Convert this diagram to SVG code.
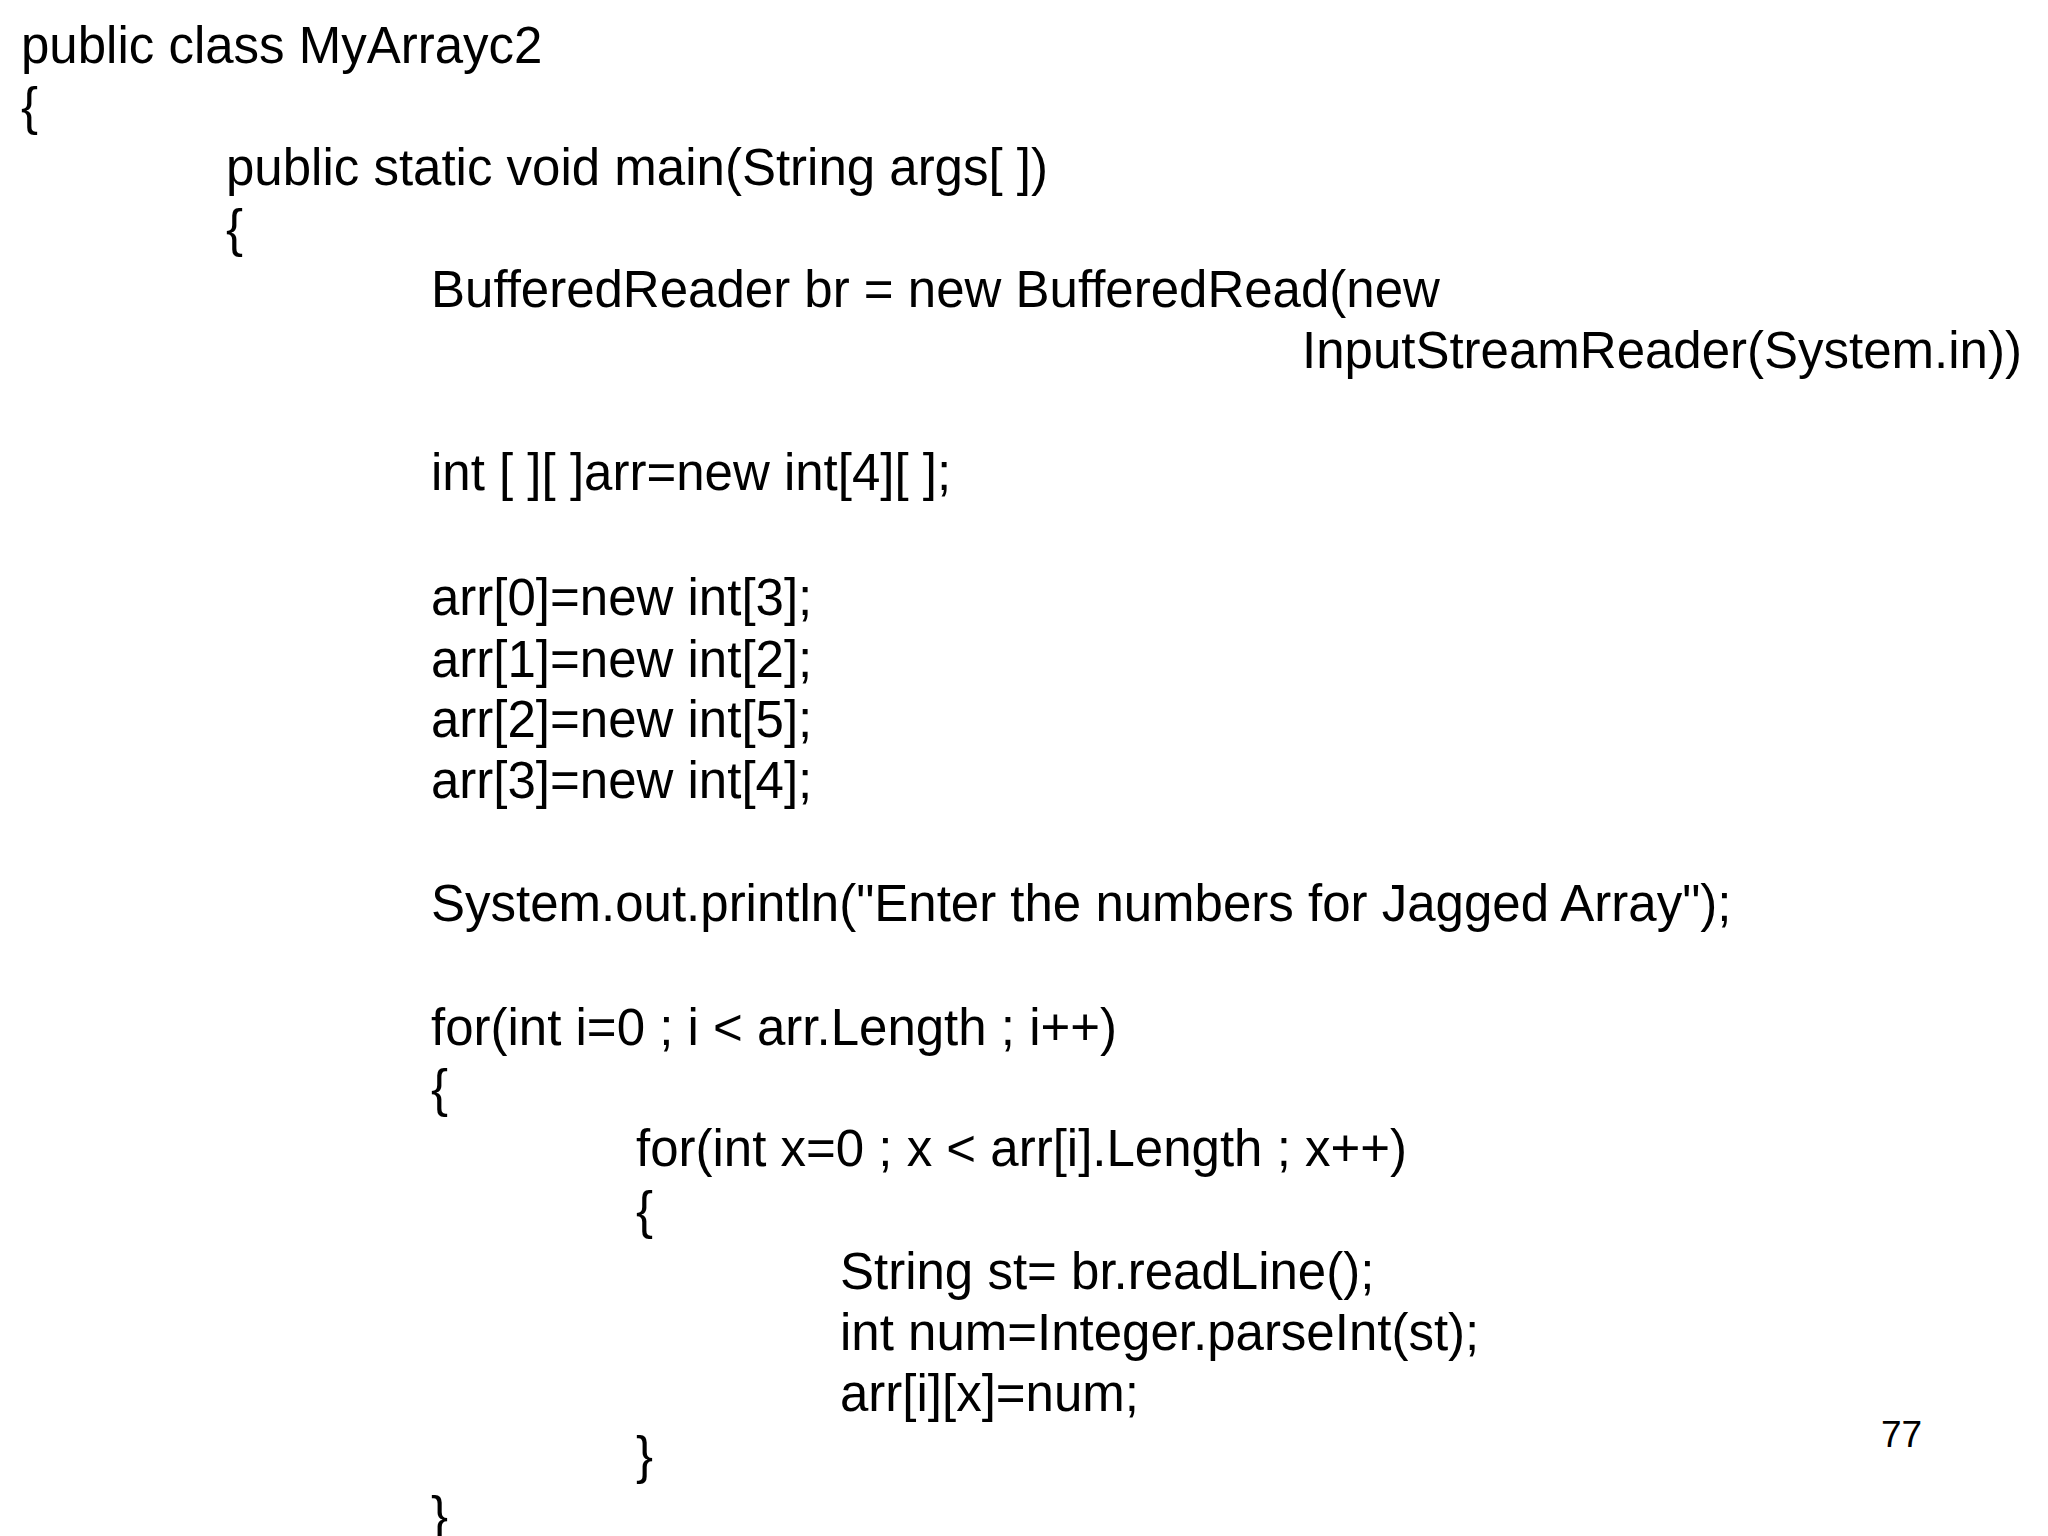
<svg xmlns="http://www.w3.org/2000/svg" width="2048" height="1536" viewBox="0 0 2048 1536">
<style>
text{font-family:"Liberation Sans",Arial,sans-serif;font-size:51px;fill:#000}
.s{font-size:37px}
</style>
<rect width="2048" height="1536" fill="#fff"/>
<g id="code">
<text x="21" y="63">public class MyArrayc2</text>
<text x="21" y="124">{</text>
<text x="226" y="185">public static void main(String args[ ])</text>
<text x="226" y="246">{</text>
<text x="431" y="307">BufferedReader br = new BufferedRead(new</text>
<text x="1302" y="368">InputStreamReader(System.in))</text>
<text x="431" y="490">int [ ][ ]arr=new int[4][ ];</text>
<text x="431" y="615">arr[0]=new int[3];</text>
<text x="431" y="677">arr[1]=new int[2];</text>
<text x="431" y="737">arr[2]=new int[5];</text>
<text x="431" y="798">arr[3]=new int[4];</text>
<text x="431" y="921">System.out.println("Enter the numbers for Jagged Array");</text>
<text x="431" y="1045">for(int i=0 ; i &lt; arr.Length ; i++)</text>
<text x="431" y="1106">{</text>
<text x="636" y="1166">for(int x=0 ; x &lt; arr[i].Length ; x++)</text>
<text x="636" y="1228">{</text>
<text x="840" y="1289">String st= br.readLine();</text>
<text x="840" y="1350">int num=Integer.parseInt(st);</text>
<text x="840" y="1411">arr[i][x]=num;</text>
<text x="636" y="1473">}</text>
<text x="431" y="1533">}</text>
<text class="s" x="1881" y="1447">77</text>
</g>
</svg>
